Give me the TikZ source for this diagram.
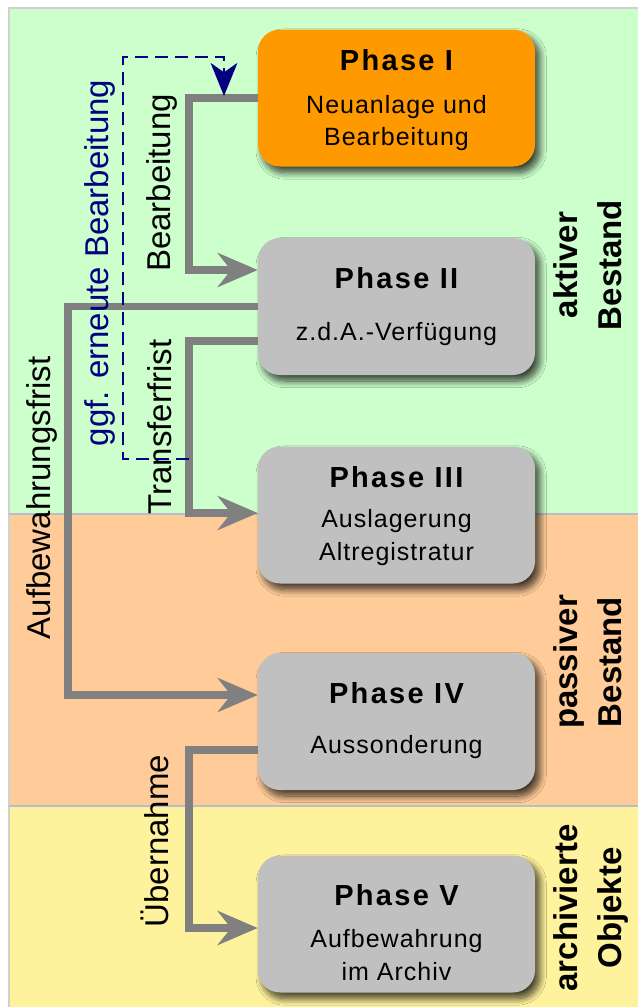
\documentclass[tikz,border=0pt]{standalone}
\usepackage{fontspec}
\setmainfont{Liberation Sans}
\newfontfamily\spacedtitle[LetterSpace=8]{Liberation Sans}
\newfontfamily\spacedbody[LetterSpace=4]{Liberation Sans}
\usetikzlibrary{arrows.meta,shadows.blur,calc}
\definecolor{bggreen}{HTML}{CCFFCC}
\definecolor{bgorange}{HTML}{FFCC99}
\definecolor{bgyellow}{HTML}{FFF29C}
\definecolor{phaseorange}{HTML}{FF9900}
\definecolor{phasegray}{HTML}{C0C0C0}
\definecolor{arrowgray}{HTML}{808080}
\definecolor{navyblue}{HTML}{000080}
\definecolor{bordergray}{HTML}{D0D0D0}
\definecolor{sepgray}{HTML}{B8BEC8}
\begin{document}
\begin{tikzpicture}[x=0.75pt, y=-0.75pt,
  phasebox/.style={rectangle, rounded corners=16.5pt, minimum width=207.75pt,
    minimum height=102.75pt, inner sep=0,
    blur shadow={shadow xshift=3.5pt, shadow yshift=-4.5pt, shadow blur radius=5pt, shadow blur steps=12, shadow opacity=75}},
  obox/.style={phasebox, fill=phaseorange},
  gbox/.style={phasebox, fill=phasegray},
  phasetitle/.style={anchor=base, inner sep=0, font=\spacedtitle\bfseries\fontsize{21.75pt}{26pt}\selectfont},
  phasebody/.style={anchor=base, inner sep=0, font=\spacedbody\fontsize{18.75pt}{23pt}\selectfont},
  vlabel/.style={rotate=90, anchor=base, inner sep=0, font=\fontsize{24.75pt}{30pt}\selectfont},
  sidelabel/.style={rotate=90, anchor=center, inner sep=0, align=center, font=\bfseries\fontsize{24.75pt}{33pt}\selectfont},
  flow/.style={draw=arrowgray, line width=5.6pt, -{Stealth[length=30pt, width=25.5pt, inset=10pt]}},
  backflow/.style={draw=navyblue, line width=1.8pt, dash pattern=on 10pt off 5pt, -{Stealth[length=24.75pt, width=20pt, inset=7pt]}}
]
\useasboundingbox (0,0) rectangle (638,1007);
% background bands
\fill[white] (0,0) rectangle (638,1007);
\fill[bggreen] (9,8) rectangle (638,514);
\fill[bgorange] (9,514) rectangle (638,806);
\fill[bgyellow] (9,806) rectangle (638,1007);
\draw[bordergray, line width=1.5pt] (638,8) -- (9,8) -- (9,1007);
\draw[sepgray, line width=1.2pt] (9,514) -- (638,514);
\draw[sepgray, line width=1.2pt] (9,806) -- (638,806);

% phase boxes
\node[obox] (p1) at (396.5,98) {};
\node[gbox] (p2) at (396.5,306.5) {};
\node[gbox] (p3) at (396.5,515) {};
\node[gbox] (p4) at (396.5,721.5) {};
\node[gbox] (p5) at (396.5,924) {};

% box texts
\node[phasetitle] (t1) at (396.5,70) {Phase I};
\node[phasebody] (b1a) at (396.5,113) {Neuanlage und};
\node[phasebody] (b1b) at (396.5,145) {Bearbeitung};
\node[phasetitle] (t2) at (396.5,288) {Phase II};
\node[phasebody] (b2a) at (396.5,340) {z.d.A.-Verfügung};
\node[phasetitle] (t3) at (396.5,487) {Phase III};
\node[phasebody] (b3a) at (396.5,527) {Auslagerung};
\node[phasebody] (b3b) at (396.5,560) {Altregistratur};
\node[phasetitle] (t4) at (396.5,703) {Phase IV};
\node[phasebody] (b4a) at (396.5,753) {Aussonderung};
\node[phasetitle] (t5) at (396.5,905) {Phase V};
\node[phasebody] (b5a) at (396.5,947) {Aufbewahrung};
\node[phasebody] (b5b) at (396.5,980) {im Archiv};

% flow arrows
\draw[flow] (p1.west) -- (189,98) -- (189,270) -- ($(p2.west)+(0,-36.5)$);
\draw[flow] (p2.west) -- (68,306.5) -- (68,695) -- ($(p4.west)+(0,-26.5)$);
\draw[flow] ($(p2.west)+(0,34.5)$) -- (189,341) -- (189,513) -- ($(p3.west)+(0,-2)$);
\draw[flow] ($(p4.west)+(0,28.5)$) -- (189,750) -- (189,928) -- ($(p5.west)+(0,4)$);

% dashed feedback
\coordinate (dstart) at (189,459);
\coordinate (dend) at (224,96);
\draw[backflow] (dstart) -- (123,459) -- (123,57) -- (224,57) -- (dend);

% connector labels
\node[vlabel, text=navyblue] (lggf) at (108,263) {ggf. erneute Bearbeitung};
\node[vlabel] (lbearb) at (170,183) {Bearbeitung};
\node[vlabel] (ltransfer) at (171,427) {Transferfrist};
\node[vlabel] (lauf) at (50,498) {Aufbewahrungsfrist};
\node[vlabel] (luber) at (168,841) {Übernahme};

% side labels
\node[sidelabel] (s1) at (587.5,265) {aktiver\\Bestand};
\node[sidelabel] (s2) at (587.5,662) {passiver\\Bestand};
\node[sidelabel] (s3) at (591,908) {archivierte\\Objekte};
\end{tikzpicture}
\end{document}
